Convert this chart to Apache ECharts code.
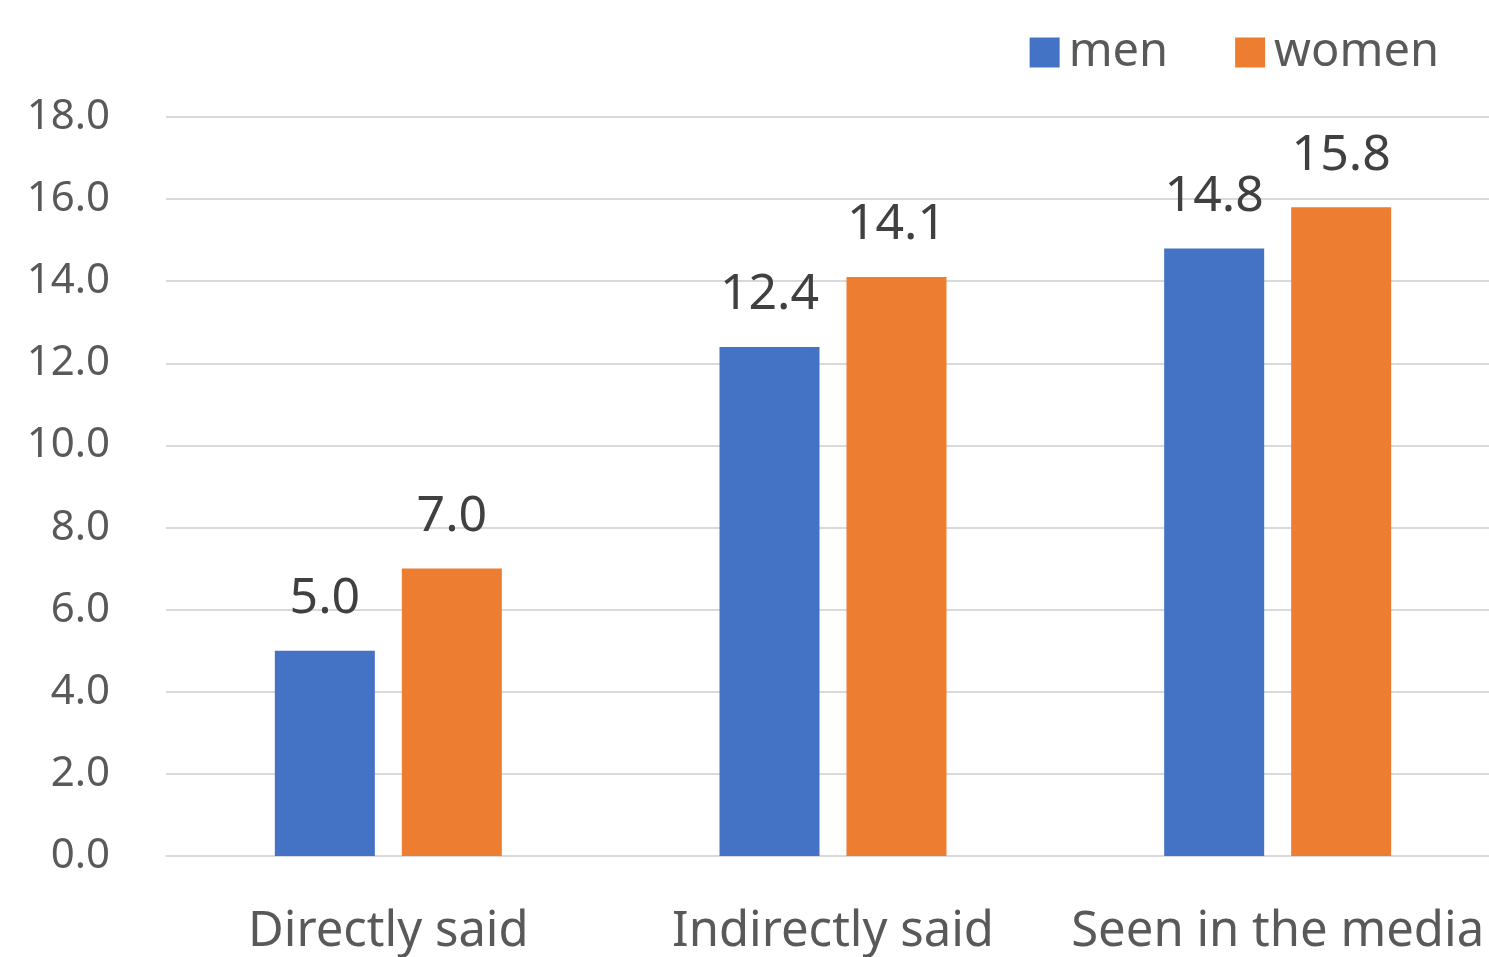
<!DOCTYPE html>
<html><head><meta charset="utf-8">
<script src="https://cdn.jsdelivr.net/npm/echarts@6/dist/echarts.min.js"></script>
<style>html,body{margin:0;padding:0;background:#fff;overflow:hidden}#c{width:1500px;height:957px}</style>
</head><body><div id="c"></div>
<script>
const categories = ['Directly said', 'Indirectly said', 'Seen in the media'];
const menValues = [5.0, 12.4, 14.8];
const womenValues = [7.0, 14.1, 15.8];
const yTicks = {min: 0, max: 18, interval: 2};

const FONT = 'Noto Sans';
const chart = echarts.init(document.getElementById('c'));
const labelStyle = {show: true, position: 'top', distance: 27, color: '#404040', fontSize: 50, fontFamily: FONT, formatter: p => p.value.toFixed(1)};
chart.setOption({
  animation: false,
  textStyle: {fontFamily: FONT},
  legend: {
    right: 56, top: 24, itemWidth: 30, itemHeight: 30, itemGap: 67,
    icon: 'rect',
    textStyle: {fontSize: 47, color: '#595959', fontFamily: FONT, padding: [0, 0, 0, 4]},
    data: ['men', 'women']
  },
  grid: {left: 166, right: 0, top: 117, bottom: 100, containLabel: false},
  xAxis: {
    type: 'category', data: categories,
    axisLine: {lineStyle: {color: '#d9d9d9', width: 2}},
    axisTick: {show: false},
    axisLabel: {color: '#595959', fontSize: 49, fontFamily: FONT, margin: 52, interval: 0, hideOverlap: false}
  },
  yAxis: {
    type: 'value', min: yTicks.min, max: yTicks.max, interval: yTicks.interval,
    axisLine: {show: false}, axisTick: {show: false},
    splitLine: {lineStyle: {color: '#d9d9d9', width: 2}},
    axisLabel: {color: '#595959', fontSize: 42, fontFamily: FONT, margin: 56, formatter: v => v.toFixed(1), padding: [10, 0, 0, 0]}
  },
  series: [
    {name: 'men', type: 'bar', data: menValues, barWidth: 100, barGap: '27%', itemStyle: {color: '#4472C4'}, label: labelStyle},
    {name: 'women', type: 'bar', data: womenValues, barWidth: 100, itemStyle: {color: '#ED7D31'}, label: labelStyle}
  ]
});
</script></body></html>
